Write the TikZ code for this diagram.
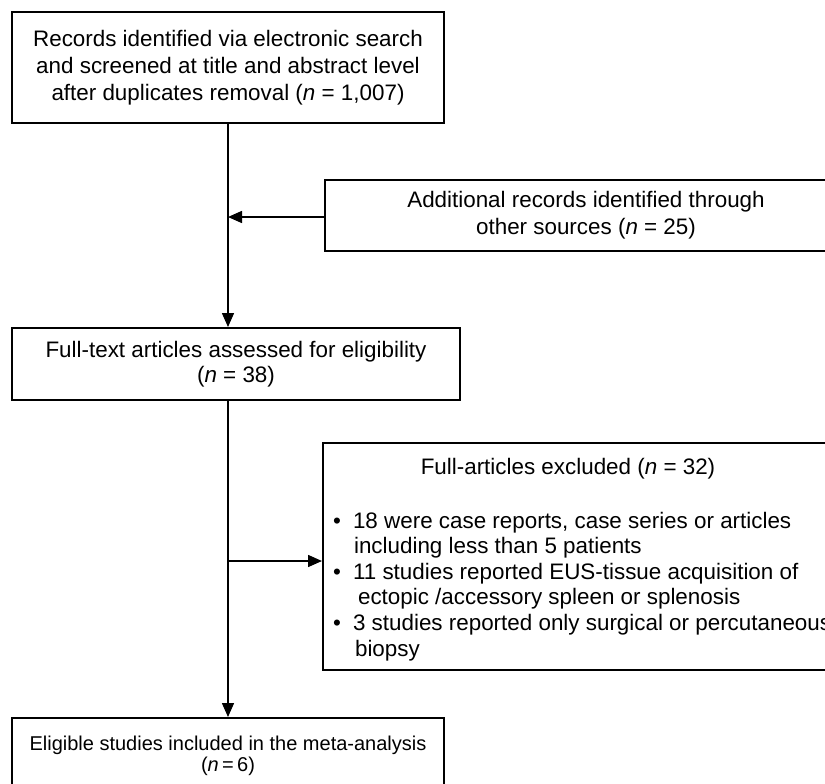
\documentclass[tikz,border=0pt]{standalone}
\usepackage{fontspec}
\setmainfont{Liberation Sans}
\usetikzlibrary{arrows.meta}
\tikzset{
  box/.style={draw=black, line width=2bp, inner sep=0pt, align=center, font=\fontsize{22.4bp}{27bp}\selectfont},
  conn/.style={draw=black, line width=1.5bp},
  arr/.style={conn, -{Triangle[length=14bp,width=12bp]}},
  lab/.style={font=\fontsize{22.4bp}{25.6bp}\selectfont, inner sep=0pt},
}

\begin{document}
\begin{tikzpicture}[x=1bp,y=-1bp]
  \useasboundingbox (0,0) rectangle (825,784);
  \clip (0,0) rectangle (825,784);
  \coordinate (trunk) at (228,0);
  \coordinate (jadd) at (228,217);
  \coordinate (jexc) at (228,561);

  \node[box, minimum width=432bp, minimum height=111bp] (rec) at (228,67.5)
    {Records identified via electronic search\\ and screened at title and abstract level\\ after duplicates removal (\textit{n} = 1,007)};
  \node[box, minimum width=522bp, minimum height=71bp] (add) at (586,215.5)
    {Additional records identified through\\ other sources (\textit{n} = 25)};
  \node[box, minimum width=448bp, minimum height=72bp] (full) at (236,364)
    {\raisebox{-3bp}{\shortstack{Full-text articles assessed for eligibility\\[1bp] (\textit{n} = 38)}}};
  \node[box, minimum width=522bp, minimum height=227bp] (exc) at (584,556.5) {};
  \node[box, minimum width=432bp, minimum height=75bp, font=\fontsize{20bp}{21bp}\selectfont] (elig) at (228,755.5)
    {Eligible studies included in the meta-analysis\\ (\textit{n}\,=\,6)};

  % excluded reasons
  \node[lab, anchor=base] (exchead) at (568,474) {Full-articles excluded (\textit{n} = 32)};
  \node[lab, anchor=base west] (exclist) at (333,528) {%
    \begin{tabular}[t]{@{}l@{\hspace{12bp}}l@{}}
      \textbullet & 18 were case reports, case series or articles\\
                  & \hspace{1bp}including less than 5 patients\\
      \textbullet & 11 studies reported EUS-tissue acquisition of\\
                  & \hspace{5bp}ectopic /accessory spleen or splenosis\\
      \textbullet & 3 studies reported only surgical or percutaneous\\
                  & \hspace{2bp}biopsy
    \end{tabular}};

  \draw[arr] (rec.south -| trunk) -- (full.north -| trunk);
  \draw[arr] (jadd -| add.west) -- (jadd);
  \draw[arr] (full.south -| trunk) -- (elig.north -| trunk);
  \draw[arr] (jexc) -- (jexc -| exc.west);
\end{tikzpicture}
\end{document}
